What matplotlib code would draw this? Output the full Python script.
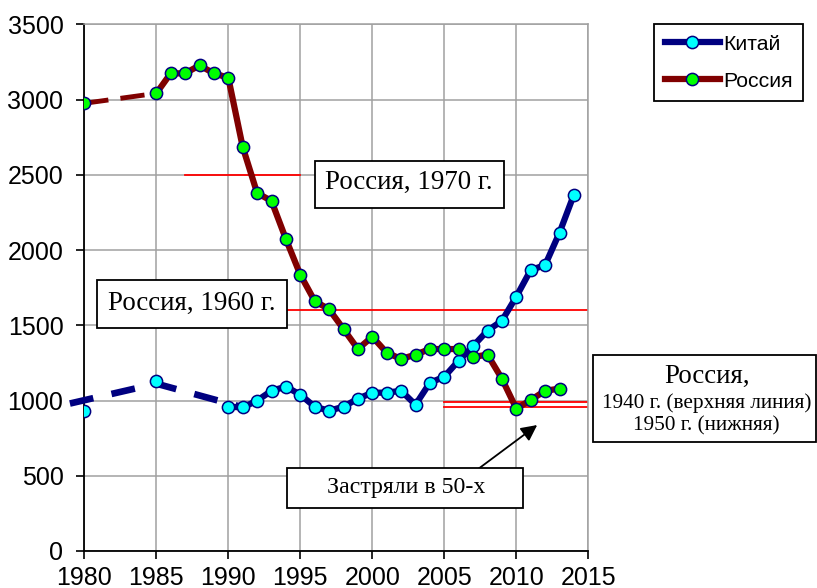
import matplotlib
matplotlib.use("Agg")
import matplotlib.pyplot as plt
from matplotlib.lines import Line2D
from matplotlib.patches import Rectangle

# данные (оценка по картинке)
years_cn_pts = [1980, 1985]
cn_pts = [932, 1132]
years_cn = list(range(1990, 2015))
cn = [959, 954, 999, 1065, 1092, 1039, 959, 932, 959, 1012, 1052, 1052, 1065,
      972, 1118, 1158, 1265, 1362, 1464, 1530, 1690, 1867, 1900, 2115, 2368]
years_cn_dash = [1979, 1985, 1991]
cn_dash = [980, 1112, 955]

years_ru = [1980] + list(range(1985, 2014))
ru = [2975, 3041, 3174, 3174, 3227, 3174, 3145, 2685, 2379, 2326, 2073, 1836,
      1661, 1606, 1475, 1342, 1424, 1318, 1276, 1305, 1342, 1342, 1342, 1289,
      1305, 1145, 946, 1003, 1065, 1079]

# уровни России в прошлом
lvl_1970 = 2500
lvl_1960 = 1600
lvl_1940 = 992
lvl_1950 = 955

W, H = 817, 588
NAVY = "#000080"
MAROON = "#800000"
SERIF = "Liberation Serif"
SANS = "Liberation Sans"

fig = plt.figure(figsize=(W / 100, H / 100), dpi=100)
ax = fig.add_axes([84.3 / W, 1 - 551 / H, (588.3 - 84.3) / W, (551 - 24.3) / H])

ax.set_xlim(1980, 2015)
ax.set_ylim(0, 3500)
ax.set_xticks(range(1980, 2016, 5))
ax.set_yticks(range(0, 3501, 500))
ax.grid(True, color="#a0a0a0", lw=1.1, zorder=0)
ax.set_axisbelow(True)
for s in ["top", "right"]:
    ax.spines[s].set_color("#a0a0a0")
    ax.spines[s].set_linewidth(1.1)
for s in ["left", "bottom"]:
    ax.spines[s].set_color("black")
    ax.spines[s].set_linewidth(1.3)
ax.tick_params(direction="out", length=5.5, width=1.2, labelsize=18)
ax.tick_params(axis="y", pad=9.5)
ax.tick_params(axis="x", pad=5)
for lab in ax.get_xticklabels() + ax.get_yticklabels():
    lab.set_family(SANS)

# красные уровни
ax.plot([1987, 1995], [lvl_1970, lvl_1970], color="red", lw=1.3, zorder=2)
ax.plot([1987, 2015], [lvl_1960, lvl_1960], color="red", lw=1.3, zorder=2)
ax.plot([2005, 2015], [lvl_1940, lvl_1940], color="red", lw=1.3, zorder=2)
ax.plot([2005, 2015], [lvl_1950, lvl_1950], color="red", lw=1.3, zorder=2)

mk = dict(marker="o", ms=8.8, mec=NAVY, mew=1.1)

# Китай
ax.plot(years_cn_dash, cn_dash, color=NAVY, lw=4.8, ls=(0, (3.6, 2.8)),
        clip_on=False, zorder=3)
ax.plot(years_cn_pts, cn_pts, ls="none", mfc="#00ffff", zorder=4, **mk)
ax.plot(years_cn, cn, color=NAVY, lw=4.5, mfc="#00ffff", zorder=4, **mk)

# Россия
ax.plot(years_ru[:2], ru[:2], color=MAROON, lw=3.5, ls=(0, (5, 2.5)), zorder=3)
ax.plot(years_ru[1:], ru[1:], color=MAROON, lw=4.5, zorder=3)
ax.plot(years_ru, ru, ls="none", mfc="#00ff00", zorder=5, **mk)

# легенда
handles = [
    Line2D([], [], color=NAVY, lw=4.5, mfc="#00ffff", **mk),
    Line2D([], [], color=MAROON, lw=4.5, mfc="#00ff00", **mk),
]
leg = fig.legend(handles, ["Китай", "Россия"], loc="upper left",
                 bbox_to_anchor=(654 / W, 1 - 24 / H), borderaxespad=0,
                 prop={"family": SANS, "size": 15.3}, fancybox=False,
                 edgecolor="black", framealpha=1, handlelength=2.6,
                 handletextpad=0.15, labelspacing=0.85, borderpad=0.5)
leg.get_frame().set_linewidth(1.3)


def box(x0, y0, x1, y1):
    fig.patches.append(Rectangle((x0 / W, 1 - y1 / H), (x1 - x0) / W,
                                 (y1 - y0) / H, transform=fig.transFigure,
                                 fc="white", ec="black", lw=1.3, zorder=5))


def label(x, y, s, size):
    fig.text(x / W, 1 - y / H, s, ha="center", va="baseline", family=SERIF,
             fontsize=size, zorder=6)


box(315, 160.5, 504, 208.3)
label(408.5, 189.3, "Россия, 1970 г.", 19.4)

box(97, 280, 287.3, 328.3)
label(192, 310, "Россия, 1960 г.", 19.4)

box(287.3, 467.7, 523.3, 508.3)
label(405.8, 493.3, "Застряли в 50-х", 17.2)

box(593.3, 355, 816, 441.7)
label(706.7, 383.3, "Россия,", 19.4)
label(706.7, 408.3, "1940 г. (верхняя линия)", 15.3)
label(706.7, 430.7, "1950 г. (нижняя)", 15.3)

ax.annotate("", xy=(2011.45, 837), xytext=(2007.0, 520),
            arrowprops=dict(arrowstyle="-|>", color="black", lw=1.3,
                            mutation_scale=24, shrinkA=0, shrinkB=0),
            annotation_clip=False)

fig.savefig("out.png", dpi=100)
